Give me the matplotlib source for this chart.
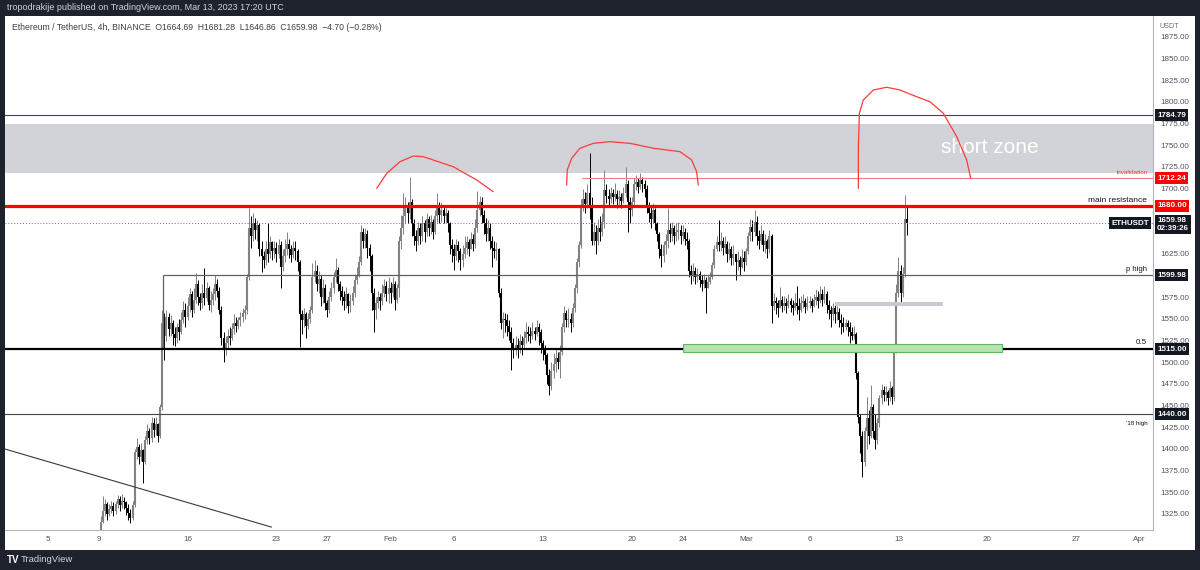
import numpy as np
import pandas as pd
import matplotlib
matplotlib.use("Agg")
import matplotlib.pyplot as plt
import matplotlib.transforms as mtransforms
from matplotlib.patches import Rectangle

plt.rcParams['font.family'] = ['Liberation Sans', 'DejaVu Sans']

# ETHUSDT 4h candles, one row per day starting Jan 9 2023 (six 4h bars a day)
start = pd.Timestamp("2023-01-09")
first_open = 1292

close_rows = [
    [1300, 1316, 1328, 1336, 1325, 1330], [1334, 1328, 1336, 1342, 1335, 1340],
    [1338, 1332, 1326, 1320, 1335, 1396], [1402, 1390, 1398, 1385, 1410, 1420],
    [1412, 1430, 1422, 1428, 1415, 1448], [1545, 1530, 1552, 1538, 1545, 1532],
    [1528, 1540, 1535, 1548, 1560, 1552], [1565, 1578, 1560, 1572, 1590, 1575],
    [1568, 1580, 1574, 1585, 1566, 1572], [1578, 1590, 1582, 1560, 1528, 1515],
    [1522, 1530, 1528, 1538, 1545, 1542], [1548, 1552, 1556, 1560, 1598, 1655],
    [1645, 1660, 1652, 1658, 1630, 1622], [1618, 1630, 1625, 1638, 1628, 1632],
    [1625, 1635, 1610, 1622, 1630, 1636], [1630, 1624, 1632, 1628, 1615, 1555],
    [1548, 1555, 1542, 1550, 1560, 1598], [1605, 1590, 1596, 1575, 1585, 1568],
    [1560, 1575, 1585, 1598, 1606, 1590], [1582, 1575, 1570, 1578, 1565, 1570],
    [1580, 1595, 1600, 1615, 1650, 1640], [1648, 1632, 1622, 1580, 1560, 1568],
    [1575, 1570, 1580, 1588, 1578, 1585], [1580, 1590, 1572, 1585, 1640, 1655],
    [1668, 1680, 1672, 1685, 1660, 1645], [1640, 1655, 1645, 1660, 1650, 1665],
    [1655, 1662, 1650, 1668, 1680, 1670], [1675, 1668, 1672, 1660, 1635, 1630],
    [1622, 1635, 1628, 1618, 1625, 1632], [1638, 1630, 1642, 1636, 1655, 1675],
    [1685, 1670, 1660, 1648, 1655, 1640], [1632, 1628, 1630, 1580, 1545, 1550],
    [1548, 1542, 1535, 1522, 1515, 1520], [1516, 1524, 1520, 1528, 1535, 1532],
    [1530, 1536, 1532, 1540, 1535, 1522], [1515, 1508, 1485, 1472, 1490, 1498],
    [1505, 1500, 1512, 1540, 1556, 1548], [1550, 1545, 1562, 1585, 1615, 1635],
    [1680, 1688, 1682, 1695, 1680, 1640], [1650, 1640, 1655, 1650, 1662, 1698],
    [1692, 1688, 1695, 1690, 1694, 1688], [1690, 1686, 1695, 1705, 1685, 1675],
    [1685, 1705, 1708, 1702, 1710, 1705], [1700, 1680, 1672, 1665, 1675, 1660],
    [1648, 1630, 1622, 1635, 1640, 1652], [1648, 1655, 1645, 1650, 1652, 1645],
    [1650, 1642, 1640, 1605, 1600, 1605], [1598, 1602, 1595, 1590, 1595, 1585],
    [1592, 1598, 1612, 1630, 1638, 1635], [1640, 1632, 1636, 1625, 1630, 1620],
    [1625, 1615, 1618, 1610, 1620, 1615], [1628, 1645, 1656, 1650, 1662, 1645],
    [1640, 1648, 1635, 1640, 1630, 1645], [1565, 1570, 1568, 1562, 1572, 1565],
    [1568, 1565, 1570, 1566, 1562, 1568], [1565, 1560, 1568, 1570, 1564, 1568],
    [1570, 1565, 1572, 1575, 1570, 1578], [1572, 1578, 1566, 1560, 1555, 1562],
    [1555, 1558, 1548, 1545, 1540, 1545], [1540, 1535, 1530, 1532, 1487, 1437],
    [1415, 1385, 1420, 1435, 1415, 1448], [1420, 1410, 1430, 1458, 1468, 1462],
    [1465, 1458, 1470, 1460, 1515, 1580], [1605, 1580, 1602, 1664.69, 1659.98],
]
high_rows = [
    [1306, 1322, 1345, 1342, 1338, 1336], [1340, 1338, 1340, 1347, 1345, 1348],
    [1344, 1340, 1336, 1330, 1340, 1400], [1412, 1405, 1406, 1400, 1415, 1428],
    [1424, 1437, 1435, 1436, 1430, 1452], [1560, 1556, 1560, 1556, 1554, 1548],
    [1540, 1545, 1550, 1558, 1570, 1568], [1575, 1585, 1582, 1585, 1603, 1595],
    [1580, 1590, 1608, 1592, 1588, 1582], [1585, 1600, 1596, 1586, 1565, 1535],
    [1530, 1538, 1540, 1545, 1555, 1552], [1552, 1558, 1562, 1566, 1602, 1678],
    [1668, 1672, 1666, 1664, 1660, 1640], [1628, 1640, 1660, 1645, 1640, 1640],
    [1638, 1642, 1640, 1630, 1642, 1650], [1642, 1635, 1640, 1640, 1630, 1618],
    [1560, 1562, 1558, 1556, 1565, 1614], [1618, 1612, 1605, 1600, 1596, 1590],
    [1572, 1582, 1592, 1604, 1620, 1610], [1594, 1588, 1582, 1586, 1580, 1578],
    [1588, 1602, 1610, 1622, 1658, 1655], [1655, 1652, 1636, 1625, 1585, 1575],
    [1582, 1580, 1590, 1596, 1594, 1598], [1592, 1598, 1594, 1590, 1645, 1670],
    [1695, 1690, 1685, 1713, 1688, 1665], [1652, 1662, 1660, 1668, 1664, 1672],
    [1668, 1670, 1665, 1675, 1695, 1685], [1685, 1680, 1678, 1675, 1662, 1642],
    [1636, 1642, 1640, 1632, 1635, 1645], [1645, 1642, 1650, 1648, 1665, 1697],
    [1692, 1690, 1675, 1666, 1664, 1660], [1645, 1640, 1638, 1632, 1585, 1558],
    [1556, 1555, 1548, 1540, 1528, 1530], [1528, 1532, 1530, 1536, 1546, 1542],
    [1540, 1546, 1540, 1548, 1545, 1538], [1525, 1520, 1510, 1492, 1500, 1510],
    [1515, 1512, 1520, 1545, 1565, 1560], [1562, 1556, 1568, 1590, 1620, 1640],
    [1688, 1700, 1696, 1705, 1741, 1690], [1662, 1658, 1665, 1668, 1672, 1722],
    [1705, 1700, 1702, 1700, 1706, 1698], [1698, 1695, 1702, 1725, 1710, 1690],
    [1690, 1712, 1716, 1712, 1718, 1714], [1710, 1704, 1685, 1680, 1684, 1678],
    [1662, 1650, 1636, 1640, 1648, 1678], [1660, 1662, 1658, 1660, 1662, 1658],
    [1658, 1655, 1650, 1642, 1612, 1614], [1610, 1608, 1605, 1600, 1602, 1598],
    [1600, 1604, 1615, 1635, 1645, 1664], [1650, 1644, 1645, 1640, 1638, 1634],
    [1635, 1625, 1628, 1622, 1630, 1628], [1632, 1650, 1665, 1664, 1675, 1668],
    [1652, 1658, 1652, 1648, 1642, 1652], [1648, 1580, 1575, 1572, 1587, 1576],
    [1576, 1574, 1578, 1574, 1572, 1580], [1588, 1574, 1576, 1578, 1574, 1576],
    [1576, 1574, 1578, 1584, 1582, 1588], [1584, 1588, 1582, 1572, 1565, 1568],
    [1566, 1565, 1562, 1555, 1552, 1550], [1548, 1546, 1540, 1542, 1535, 1490],
    [1440, 1420, 1425, 1460, 1445, 1473], [1452, 1440, 1435, 1462, 1475, 1472],
    [1472, 1468, 1478, 1472, 1520, 1590], [1621, 1612, 1610, 1693, 1681.28],
]
low_rows = [
    [1290, 1298, 1314, 1322, 1318, 1322], [1326, 1322, 1325, 1332, 1328, 1332],
    [1330, 1324, 1318, 1314, 1318, 1333], [1388, 1382, 1386, 1360, 1382, 1405],
    [1405, 1408, 1414, 1416, 1408, 1412], [1445, 1502, 1524, 1530, 1530, 1520],
    [1518, 1522, 1525, 1532, 1545, 1540], [1548, 1558, 1552, 1556, 1568, 1566],
    [1560, 1562, 1566, 1570, 1560, 1558], [1566, 1572, 1575, 1555, 1520, 1500],
    [1508, 1515, 1520, 1525, 1532, 1535], [1538, 1542, 1546, 1550, 1555, 1595],
    [1632, 1640, 1642, 1640, 1622, 1604], [1608, 1612, 1615, 1620, 1618, 1620],
    [1615, 1620, 1585, 1605, 1615, 1624], [1620, 1615, 1620, 1618, 1605, 1517],
    [1532, 1540, 1528, 1538, 1545, 1556], [1592, 1582, 1580, 1565, 1568, 1560],
    [1552, 1556, 1570, 1580, 1592, 1582], [1572, 1566, 1560, 1562, 1556, 1558],
    [1566, 1575, 1590, 1598, 1612, 1632], [1632, 1620, 1605, 1560, 1535, 1550],
    [1562, 1560, 1566, 1575, 1570, 1568], [1568, 1575, 1560, 1568, 1575, 1630],
    [1648, 1660, 1660, 1665, 1645, 1635], [1628, 1635, 1636, 1640, 1638, 1645],
    [1645, 1648, 1642, 1648, 1662, 1660], [1662, 1660, 1662, 1650, 1625, 1615],
    [1606, 1618, 1615, 1606, 1610, 1620], [1625, 1622, 1630, 1628, 1632, 1650],
    [1668, 1660, 1648, 1640, 1640, 1630], [1610, 1620, 1618, 1575, 1538, 1528],
    [1535, 1530, 1525, 1491, 1505, 1508], [1505, 1510, 1508, 1515, 1522, 1524],
    [1522, 1526, 1525, 1530, 1520, 1510], [1502, 1498, 1475, 1462, 1468, 1482],
    [1488, 1492, 1482, 1508, 1535, 1540], [1540, 1535, 1540, 1558, 1580, 1610],
    [1632, 1674, 1672, 1678, 1665, 1635], [1635, 1625, 1635, 1640, 1645, 1655],
    [1684, 1680, 1684, 1682, 1686, 1678], [1680, 1678, 1684, 1690, 1650, 1660],
    [1668, 1680, 1698, 1695, 1700, 1696], [1690, 1672, 1662, 1655, 1660, 1652],
    [1640, 1620, 1610, 1615, 1625, 1632], [1638, 1640, 1636, 1640, 1642, 1636],
    [1640, 1635, 1630, 1598, 1590, 1594], [1590, 1592, 1586, 1582, 1585, 1557],
    [1585, 1590, 1596, 1608, 1628, 1628], [1628, 1624, 1626, 1615, 1618, 1612],
    [1612, 1595, 1606, 1600, 1608, 1605], [1612, 1625, 1640, 1640, 1645, 1635],
    [1630, 1636, 1628, 1626, 1620, 1626], [1545, 1560, 1555, 1552, 1562, 1558],
    [1560, 1556, 1562, 1558, 1554, 1560], [1555, 1548, 1558, 1562, 1556, 1560],
    [1562, 1558, 1564, 1566, 1562, 1568], [1565, 1568, 1556, 1550, 1540, 1548],
    [1545, 1548, 1540, 1532, 1535, 1537], [1530, 1522, 1525, 1526, 1480, 1430],
    [1395, 1367, 1380, 1400, 1405, 1412], [1412, 1400, 1405, 1425, 1452, 1455],
    [1455, 1450, 1455, 1452, 1455, 1510], [1575, 1568, 1575, 1598, 1646.86],
]

closes = np.array(sum(close_rows, []), dtype=float)
highs = np.array(sum(high_rows, []), dtype=float)
lows = np.array(sum(low_rows, []), dtype=float)
opens = np.r_[first_open, closes[:-1]]

# horizontal levels drawn on the chart
level_top = 1784.79
level_invalid = 1712.24
level_resist = 1680.00
last_price = 1659.98
level_phigh = 1599.98
level_half = 1515.00
level_18 = 1440.00
short_zone = (1718, 1775)
green_zone = (1511.3, 1520.5)
green_days = (46.03, 71.15)
gray_mark = 1567
gray_days = (58.0, 66.5)
phigh_start = 5.06
invalid_start = 38.07
trend_days = [-7.38, 13.6]
trend_prices = [1399.6, 1309.6]

# hand drawn red arcs (days after Jan 9, price)
arc1_d = [21.90, 22.69, 23.73, 24.78, 25.57, 27.93, 29.78, 31.08]
arc1_p = [1700.4, 1717.7, 1731.1, 1737.7, 1736.9, 1725.3, 1710.0, 1696.5]
arc2_d = [36.86, 36.91, 37.26, 37.91, 38.96, 40.27, 41.85, 43.69, 45.79, 46.71, 47.10, 47.23]
arc2_p = [1704.2, 1721.5, 1735.0, 1746.6, 1752.3, 1754.2, 1752.3, 1746.6, 1742.7, 1733.1, 1719.6, 1704.2]
arc3_d = [59.84, 59.84, 59.92, 60.23, 61.02, 62.07, 63.12, 64.43, 65.48, 66.53, 67.59, 68.37, 68.69]
arc3_p = [1700.4, 1748.4, 1787.0, 1802.3, 1813.8, 1817.0, 1813.8, 1806.1, 1800.3, 1787.0, 1760.0, 1733.1, 1712.0]

tick_dates = ["2023-01-05", "2023-01-09", "2023-01-16", "2023-01-23", "2023-01-27", "2023-02-01",
              "2023-02-06", "2023-02-13", "2023-02-20", "2023-02-24", "2023-03-01", "2023-03-06",
              "2023-03-13", "2023-03-20", "2023-03-27", "2023-04-01"]
tick_labels = ["5", "9", "16", "23", "27", "Feb", "6", "13", "20", "24", "Mar", "6", "13", "20", "27", "Apr"]
price_ticks = [1325, 1350, 1375, 1400, 1425, 1450, 1475, 1500, 1525, 1550, 1575, 1625,
               1700, 1725, 1750, 1775, 1800, 1825, 1850, 1875]

dark = '#1e222d'
fig = plt.figure(figsize=(12, 5.7), dpi=100, facecolor=dark)
fig.add_artist(Rectangle((5 / 1200, 20 / 570), 1190 / 1200, 534 / 570,
                         transform=fig.transFigure, fc='white', ec='none', zorder=0))
ax = fig.add_axes([5 / 1200, 40 / 570, 1148 / 1200, 514 / 570])
ax.set_facecolor('white')
ax.set_xlim(-7.38, 83.05)
ax.set_ylim(1306.2, 1899.2)

# candles
x = np.arange(len(closes)) / 6
up = closes >= opens
cols = np.where(up, '#828282', '#000000')
ax.vlines(x, lows, highs, colors=cols, lw=0.7, zorder=2)
body_lo = np.minimum(opens, closes)
body_hi = np.maximum(np.maximum(opens, closes), body_lo + 1.0)
ax.vlines(x, body_lo, body_hi, colors=cols, lw=1.5, zorder=2)

# zones and levels
ax.axhspan(short_zone[0], short_zone[1], color='#d1d3d8', lw=0, zorder=1)
ax.text(70.2, 1747, 'short zone', color='white', fontsize=15, ha='center', va='center', zorder=3)
ax.axhline(level_top, color='#434651', lw=0.8, zorder=3)
ax.hlines(level_invalid, invalid_start, 83.05, color='#f77c80', lw=0.8, zorder=3)
ax.axhline(level_resist, color='#ff0000', lw=2.3, zorder=3)
ax.axhline(last_price, color='#707070', lw=0.7, ls=(0, (1, 2)), zorder=3)
ax.hlines(level_phigh, phigh_start, 83.05, color='#5d606b', lw=0.9, zorder=3)
ax.vlines(phigh_start, level_half, level_phigh, color='#5d606b', lw=0.9, zorder=3)
ax.axhline(level_half, color='#000000', lw=1.6, zorder=3)
ax.axhline(level_18, color='#434651', lw=0.8, zorder=3)
ax.add_patch(Rectangle((green_days[0], green_zone[0]), green_days[1] - green_days[0],
                       green_zone[1] - green_zone[0], fc='#b6e3b1', ec='#5cb85c', lw=0.8, zorder=3))
ax.hlines(gray_mark, gray_days[0], gray_days[1], color='#c9cbd0', lw=3, zorder=3)
ax.plot(trend_days, trend_prices, color='#3a3a3a', lw=0.8, zorder=3)
for ad, ap in [(arc1_d, arc1_p), (arc2_d, arc2_p), (arc3_d, arc3_p)]:
    ax.plot(ad, ap, color='#ff3b3b', lw=0.9, zorder=4, solid_capstyle='round')

# labels on the lines
ax.text(82.6, 1719, 'invalidation', color='#f23645', fontsize=4.5, ha='right', va='center')
ax.text(82.6, 1682.5, 'main resistance', color='#131722', fontsize=6, ha='right', va='bottom')
ax.text(82.6, 1607.3, 'p high', color='#131722', fontsize=5.5, ha='right', va='center')
ax.text(82.6, 1522, '0.5', color='#131722', fontsize=5.8, ha='right', va='center')
ax.text(82.6, 1428.5, "'18 high", color='#131722', fontsize=4.5, ha='right', va='center')

# axes styling
for s in ['left', 'top']:
    ax.spines[s].set_visible(False)
for s in ['bottom', 'right']:
    ax.spines[s].set_color('#b2b5be')
    ax.spines[s].set_linewidth(0.8)
ax.yaxis.tick_right()
ax.set_yticks(price_ticks)
ax.set_yticklabels([f"{p:.2f}" for p in price_ticks])
ax.tick_params(axis='y', length=0, pad=5, labelsize=5.8, labelcolor='#50535e')
ax.set_xticks([(pd.Timestamp(d) - start).days for d in tick_dates])
ax.set_xticklabels(tick_labels)
ax.tick_params(axis='x', length=0, pad=4.5, labelsize=5.8, labelcolor='#50535e')

# price tags on the right scale
trans = mtransforms.blended_transform_factory(ax.transAxes, ax.transData)
tags = [(level_top, '1784.79', '#131722'), (level_invalid, '1712.24', '#ff0000'),
        (level_resist, '1680.00', '#ff0000'), (level_phigh, '1599.98', '#131722'),
        (level_half, '1515.00', '#131722'), (level_18, '1440.00', '#131722')]
for price, txt, fc in tags:
    ax.text(1.0035, price, txt, transform=trans, ha='left', va='center', color='white',
            fontsize=5.8, fontweight='bold', clip_on=False,
            bbox=dict(boxstyle='square,pad=0.3', fc=fc, ec='none'))
ax.annotate('1659.98\n02:39:26', xy=(1.0035, last_price), xycoords=trans, xytext=(0, 4.5),
            textcoords='offset points', ha='left', va='top', color='white', fontsize=5.8,
            fontweight='bold', linespacing=1.1, annotation_clip=False,
            bbox=dict(boxstyle='square,pad=0.3', fc='#131722', ec='none'))
ax.text(0.9965, last_price, 'ETHUSDT', transform=trans, ha='right', va='center', color='white',
        fontsize=5.8, fontweight='bold',
        bbox=dict(boxstyle='square,pad=0.3', fc='#131722', ec='none'))

# header, legend and footer
fig.text(7 / 1200, 1 - 8 / 570, 'tropodrakije published on TradingView.com, Mar 13, 2023 17:20 UTC',
         color='#d1d4dc', fontsize=6.5, va='center')
fig.text(12 / 1200, 1 - 27 / 570,
         'Ethereum / TetherUS, 4h, BINANCE  O1664.69  H1681.28  L1646.86  C1659.98  \u22124.70 (\u22120.28%)',
         color='#3c3f48', fontsize=6.2, va='center')
fig.text(1160 / 1200, 1 - 26 / 570, 'USDT', color='#6a6d78', fontsize=5.2, va='center')
fig.text(7 / 1200, 1 - 560 / 570, 'TV', color='white', fontsize=7, fontweight='bold', va='center')
fig.text(21 / 1200, 1 - 560 / 570, 'TradingView', color='#d1d4dc', fontsize=6.8, va='center')

fig.savefig('out.png', dpi=100, facecolor=dark)
